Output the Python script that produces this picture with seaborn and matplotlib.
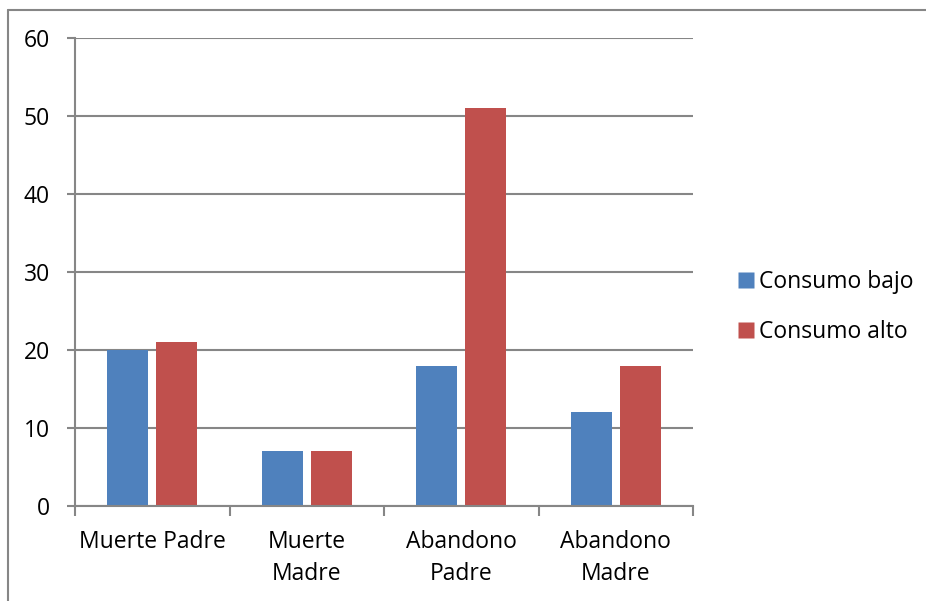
import pandas as pd
import numpy as np
import seaborn as sns
import matplotlib.pyplot as plt
from matplotlib.lines import Line2D

categorias = ["Muerte Padre", "Muerte\nMadre", "Abandono\nPadre", "Abandono\nMadre"]
consumo_bajo = [20, 7, 18, 12]
consumo_alto = [21, 7, 51, 18]
series = ["Consumo bajo", "Consumo alto"]
colores = ["#4F81BD", "#C0504D"]
yticks = [0, 10, 20, 30, 40, 50, 60]

df = pd.DataFrame({
    "categoria": categorias * 2,
    "valor": consumo_bajo + consumo_alto,
    "serie": [series[0]] * 4 + [series[1]] * 4,
})

sns.set_style("white")
plt.rcParams["font.family"] = ["Open Sans", "DejaVu Sans"]

fig = plt.figure(figsize=(9.26, 6.01), dpi=100)
ax = fig.add_axes([75/926, 1-506/601, (693-75)/926, (506-38)/601])

sns.barplot(data=df, x="categoria", y="valor", hue="serie", palette=colores,
            width=0.63, gap=0.16, ax=ax, saturation=1, edgecolor="none")

gris = "#868686"
ax.set_ylim(0, 60)
ax.set_xlim(-0.5, 3.5)
ax.set_yticks(yticks)
ax.yaxis.grid(True, color=gris, linewidth=1.5)
ax.set_axisbelow(True)
for s in ["top", "right"]:
    ax.spines[s].set_visible(False)
for s in ["left", "bottom"]:
    ax.spines[s].set_color(gris)
    ax.spines[s].set_linewidth(1.5)

ax.tick_params(axis="y", length=6, width=1.5, color=gris, labelsize=16.5,
               labelcolor="black", pad=12, left=True)
ax.tick_params(axis="x", which="major", length=0, labelsize=16.5,
               labelcolor="black", pad=17)
ax.set_xticks(np.arange(-0.5, 4, 1), minor=True)
ax.tick_params(axis="x", which="minor", length=7, width=1.5, color=gris, bottom=True)
for lbl in ax.get_xticklabels():
    lbl.set_linespacing(1.45)
ax.set_xlabel("")
ax.set_ylabel("")

handles = [Line2D([], [], marker="s", linestyle="none", markersize=11,
                  markerfacecolor=c, markeredgecolor="none") for c in colores]
ax.get_legend().remove()
leg = fig.legend(handles, series, loc="center left", bbox_to_anchor=(714/926, 1-307/601),
                 frameon=False, fontsize=16.5, handletextpad=0.05, labelspacing=1.15,
                 handlelength=1.0)
for t in leg.get_texts():
    t.set_color("black")

# borde del area del grafico
fig.add_artist(Line2D([8/926, 8/926], [0, 1-10/601], color=gris, linewidth=1.5))
fig.add_artist(Line2D([8/926, 1], [1-10/601, 1-10/601], color=gris, linewidth=1.5))

fig.savefig("out.png", dpi=100)
